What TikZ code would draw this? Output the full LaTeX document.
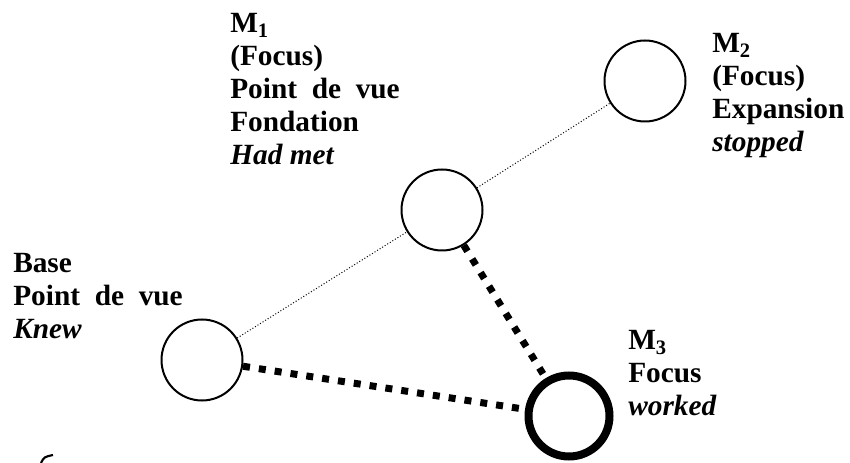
\documentclass[tikz,border=0pt]{standalone}
\usepackage{fontspec}
\setmainfont{Liberation Serif}
\begin{document}
\begin{tikzpicture}[x=0.75pt,y=-0.75pt,
  ring/.style={circle,draw,line width=1.5pt,minimum size=60.75pt,inner sep=0pt},
  focusring/.style={circle,draw,line width=6pt,minimum size=60.75pt,inner sep=0pt},
  lbl/.style={anchor=base west,align=left,inner sep=0pt,font=\fontsize{22}{24.75}\selectfont\bfseries},
  linkthin/.style={line width=0.75pt,dash pattern=on 0.75pt off 1.5pt},
  linkheavy/.style={line width=5.25pt,dash pattern=on 5.25pt off 6.75pt}]
\useasboundingbox (0,0) rectangle (850,463);
\node[ring] (base) at (202,360) {};
\node[ring] (m1) at (442,210) {};
\node[ring] (m2) at (645,81) {};
\node[focusring] (m3) at (569,416) {};
\draw[linkthin] (base) -- (m1);
\draw[linkthin] (m1) -- (m2);
\draw[linkheavy] (m1) -- (m3);
\draw[linkheavy] (base) -- (m3);
% anchor = baseline of the last line
\node[lbl] (tbase) at (13,339) {Base\\Point\ \ de\ \ vue\\\textit{Knew}};
\node[lbl] (tm1) at (230,165) {M\textsubscript{1}\\(Focus)\\Point\ \ de\ \ vue\\Fondation\\\textit{Had met}};
\node[lbl] (tm2) at (712,152) {M\textsubscript{2}\\(Focus)\\Expansion\\\textit{stopped}};
\node[lbl] (tm3) at (628,416) {M\textsubscript{3}\\Focus\\\textit{worked}};
\draw[line width=1.6pt] (41,463) .. controls (44,457) .. (53,455);
\end{tikzpicture}
\end{document}
